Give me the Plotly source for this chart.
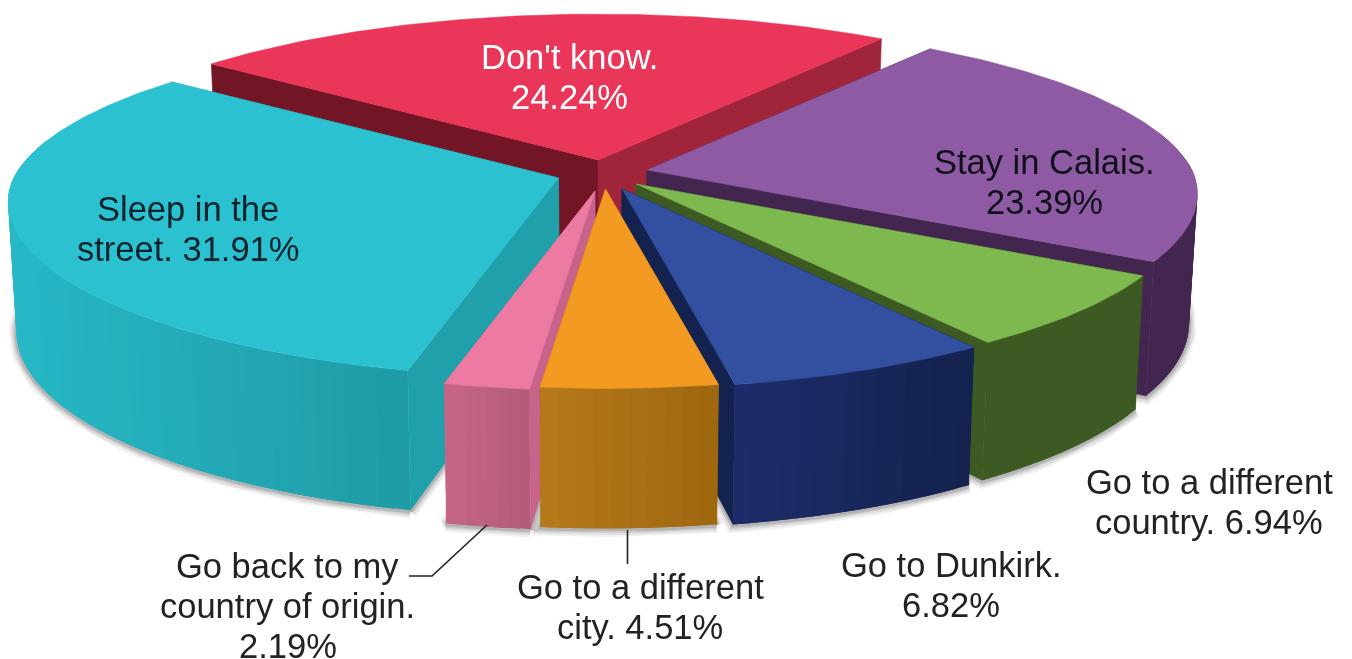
import math
import plotly.graph_objects as go

# ---- data ----
categories = ["Don't know.", "Stay in Calais.", "Go to a different country.",
              "Go to Dunkirk.", "Go to a different city.",
              "Go back to my country of origin.", "Sleep in the street."]
values = [24.24, 23.39, 6.94, 6.82, 4.51, 2.19, 31.91]
label_text = ["Don't know.<br>24.24%", "Stay in Calais.<br>23.39%",
              "Go to a different<br>country. 6.94%", "Go to Dunkirk.<br>6.82%",
              "Go to a different<br>city. 4.51%",
              "Go back to my<br>country of origin.<br>2.19%",
              "Sleep in the<br>street. 31.91%"]

# ---- styles / layout ----
START = -51.3
TIPS = [(598, 160), (647, 170), (636, 184), (622, 189), (605.5, 189), (595, 191), (558.5, 178)]
TOP = ["#ea3658", "#8d5aa3", "#7eb94f", "#334fa0", "#f29a21", "#ed7aa2", "#2cc1d0"]
START_WALL = ["#721626", "#42264f", "#3d5a22", "#14224f", "#a56c12", "#c8648c", "#20a0aa"]
END_WALL = ["#a0243a", "#42264f", "#3d5a22", "#14224f", "#a56c12", "#c8648c", "#20a0aa"]
WALL_L = ["#a0243a", "#42264f", "#3d5a22", "#1d2d6b", "#b87a1c", "#c66689", "#27b8c6"]
WALL_R = ["#a0243a", "#42264f", "#3d5a22", "#14224f", "#9f680f", "#b55c7a", "#1f9ca6"]
TEXT_COL = ["#ffffff", "#10101a", "#222222", "#222222", "#222222", "#222222", "#06222a"]
LABEL_XY = [(569, 77), (1044.5, 182), (1209, 502), (951, 585), (640, 607), (287.5, 606), (188, 229)]
LINE_GAP = 40
DRAW_ORDER = [0, 1, 2, 3, 6, 5, 4]
A, B, KY = 545, 168.5, 0.155
FONT = "Liberation Sans, Arial, sans-serif"
FONT_SIZE = 34.5


def top_pt(theta, tip, r=1.0):
    t = math.radians(theta)
    u, v = r * math.sin(t), -r * math.cos(t)
    kx = 0.14 if v > 0 else 0.16
    return tip[0] + A * u / (1 - kx * v), tip[1] + B * v / (1 - KY * v), v


def bot_pt(theta, tip, r=1.0):
    x, y, v = top_pt(theta, tip, r)
    return 600 + (x - 600) * 0.986, y + 128 + 12 * v


def hex2rgb(c):
    return [int(c[i:i + 2], 16) for i in (1, 3, 5)]


def mix(a, b, f):
    f = max(0, min(1, f))
    ca, cb = hex2rgb(a), hex2rgb(b)
    return "#%02x%02x%02x" % tuple(round(p + (q - p) * f) for p, q in zip(ca, cb))


def poly(fig, pts, fill, width=0.6):
    xs = [p[0] for p in pts] + [pts[0][0]]
    ys = [p[1] for p in pts] + [pts[0][1]]
    fig.add_trace(go.Scatter(x=xs, y=ys, mode="lines", fill="toself", fillcolor=fill,
                             line=dict(color=fill, width=width),
                             hoverinfo="skip", showlegend=False))


spans = []
a0 = START
for val in values:
    spans.append((a0, a0 + val * 3.6))
    a0 += val * 3.6

fig = go.Figure()

# soft shadow under the bottom faces
for width, alpha in ((15, 0.07), (11, 0.09), (7, 0.12), (4, 0.16)):
    for i in DRAW_ORDER:
        s, e = spans[i]
        n = max(8, int((e - s) / 1.5))
        pts = [bot_pt(s + (e - s) * j / n, TIPS[i]) for j in range(n + 1)]
        pts.append(bot_pt(0, TIPS[i], 0.0))
        pts = [(p[0], p[1] + 1) for p in pts]
        xs = [p[0] for p in pts] + [pts[0][0]]
        ys = [p[1] for p in pts] + [pts[0][1]]
        fig.add_trace(go.Scatter(x=xs, y=ys, mode="lines",
                                 line=dict(color=f"rgba(60,60,60,{alpha})", width=width),
                                 hoverinfo="skip", showlegend=False))

# slices, painted from the back to the front
for i in DRAW_ORDER:
    s, e = spans[i]
    tip = TIPS[i]
    c_top, c_bot = top_pt(0, tip, 0.0)[:2], bot_pt(0, tip, 0.0)
    # cut faces
    poly(fig, [c_top, top_pt(s, tip)[:2], bot_pt(s, tip), c_bot], START_WALL[i])
    poly(fig, [c_top, top_pt(e, tip)[:2], bot_pt(e, tip), c_bot], END_WALL[i])
    # outer wall: overlapping bands, each painted over the tail of the one before
    n = max(8, int((e - s) / 1.5))
    ang = [s + (e - s) * j / n for j in range(n + 1)]
    vis = [a for a in ang if top_pt(a, tip)[2] > -0.25]
    if len(vis) > 1:
        xx = [top_pt(a, tip)[0] for a in vis]
        xmin, xmax = min(xx), max(xx)
        for j in range(len(vis) - 1):
            a, b = vis[j], vis[min(j + 2, len(vis) - 1)]
            f = (top_pt(vis[j], tip)[0] - xmin) / max(1, xmax - xmin)
            col = mix(WALL_L[i], WALL_R[i], f)
            poly(fig, [top_pt(a, tip)[:2], top_pt(b, tip)[:2], bot_pt(b, tip), bot_pt(a, tip)],
                 col, width=0)
    # top face
    m = max(12, int((e - s) / 1.0))
    arc = [top_pt(s + (e - s) * j / m, tip)[:2] for j in range(m + 1)]
    poly(fig, [c_top] + arc, TOP[i], width=0.5)

for txt, (lx, ly), col in zip(label_text, LABEL_XY, TEXT_COL):
    rows = txt.split("<br>")
    for r, row in enumerate(rows):
        fig.add_annotation(x=lx, y=ly + (r - (len(rows) - 1) / 2) * LINE_GAP, text=row,
                           showarrow=False, align="center", xanchor="center", yanchor="middle",
                           font=dict(family=FONT, size=FONT_SIZE, color=col))

leader = dict(color="#222222", width=1.6)
fig.add_shape(type="line", x0=627.5, y0=530, x1=627.5, y1=564, line=leader)
fig.add_shape(type="path", path="M 487 525 L 432 576 L 409 576", line=leader)

fig.update_layout(
    width=1352, height=659, margin=dict(l=0, r=0, t=0, b=0),
    paper_bgcolor="white", plot_bgcolor="white", showlegend=False,
    xaxis=dict(range=[0, 1352], visible=False, fixedrange=True),
    yaxis=dict(range=[659, 0], visible=False, fixedrange=True),
)
fig.write_html("out.html", config={"displayModeBar": False},
               post_script="document.body.style.margin='0';"
                           "document.querySelector('.js-plotly-plot').style.filter='blur(0.6px)';")
